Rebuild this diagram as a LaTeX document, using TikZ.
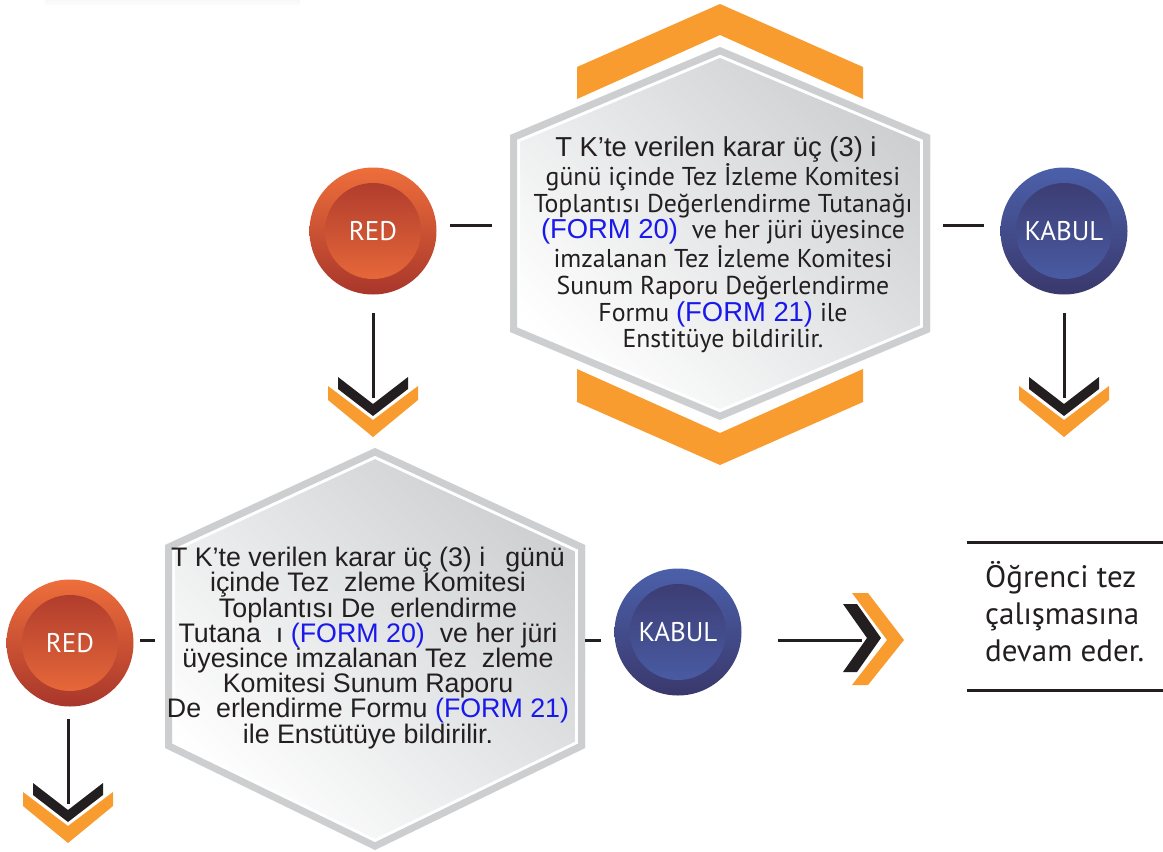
\documentclass[tikz,border=0pt]{standalone}
\usepackage{fontspec}
\setmainfont{Liberation Sans}
\newfontfamily\arial{Liberation Sans}
\newfontfamily\myriad{PT Sans}
\definecolor{ink}{HTML}{231F20}
\definecolor{chevorange}{HTML}{F99C2F}
\definecolor{redA}{HTML}{EE6E3B}
\definecolor{redB}{HTML}{A8362B}
\definecolor{blueA}{HTML}{4B60AA}
\definecolor{blueB}{HTML}{3A386C}
\definecolor{hexgray}{HTML}{CCCED0}
\definecolor{hexfill}{HTML}{CDCFD1}
\definecolor{formblue}{RGB}{25,25,235}
\tikzset{
  ball/.style={circle, minimum size=127pt, inner sep=0pt, text=white,
    font=\myriad\fontsize{27}{27}\selectfont},
  redball/.style={ball, top color=redA, bottom color=redB,
    path picture={\shade[top color=redB, bottom color=redA]
      (path picture bounding box.center) circle (48pt);}},
  blueball/.style={ball, top color=blueA, bottom color=blueB,
    path picture={\shade[top color=blueB, bottom color=blueA]
      (path picture bounding box.center) circle (48pt);}},
  conn/.style={draw=ink, line width=3pt},
  tickline/.style={draw=ink, line width=3pt},
  boxline/.style={draw=ink, line width=3pt},
  hexshade/.style={top color=hexfill, bottom color=white, shading angle=-45},
  downchev/.pic={
    \fill[ink] (-35,0) -- (0,27) -- (35,0) -- (35,12) -- (0,39) -- (-35,12) -- cycle;
    \fill[chevorange] (-45,9) -- (0,43) -- (45,9) -- (45,23) -- (0,60) -- (-45,23) -- cycle;
  },
}
\begin{document}
\begin{tikzpicture}[x=1pt,y=-1pt]
\useasboundingbox (0,0) rectangle (1163,852);
\fill[white] (0,0) rectangle (1163,852);
\shade[top color=black!3, bottom color=white] (45,0) rectangle (300,6);

% ---------- top hexagon with orange chevrons ----------
\fill[chevorange] (577,67) -- (720,4) -- (863,67) -- (863,99) -- (720,35) -- (577,99) -- cycle;
\fill[chevorange] (577,369) -- (720,433) -- (863,369) -- (863,402) -- (720,465) -- (577,402) -- cycle;
\begin{scope}
  \clip (510,135) -- (720,47) -- (930,135) -- (930,332) -- (720,420) -- (510,332) -- cycle;
  \shade[hexshade] (510,135) -- (720,47) -- (930,135) -- (930,332) -- (720,420) -- (510,332) -- cycle;
  \draw[white, line width=20pt] (510,135) -- (720,47) -- (930,135) -- (930,332) -- (720,420) -- (510,332) -- cycle;
  \draw[hexgray, line width=14pt] (510,135) -- (720,47) -- (930,135) -- (930,332) -- (720,420) -- (510,332) -- cycle;
\end{scope}
\node[align=center, text=ink, inner sep=0pt, font=\myriad\fontsize{25.8}{26.8}\selectfont] (hexAtext) at (723,245)
  {{\arial\fontsize{27.4}{26.8}\selectfont T K’te verilen karar üç (3) i\hspace*{14pt}}\\
   günü içinde Tez İzleme Komitesi\\
   Toplantısı Değerlendirme Tutanağı\\
   {\arial\fontsize{27.4}{26.8}\selectfont\color{formblue}(FORM 20)}\ \ ve her jüri üyesince\\
   imzalanan Tez İzleme Komitesi\\
   Sunum Raporu Değerlendirme\\
   Formu {\arial\fontsize{27.4}{26.8}\selectfont\color{formblue}(FORM 21)} ile\\
   Enstitüye bildirilir.};

% ---------- bottom hexagon ----------
\begin{scope}
  \clip (165,545) -- (375,448) -- (585,545) -- (585,748) -- (375,850) -- (165,748) -- cycle;
  \shade[hexshade] (165,545) -- (375,448) -- (585,545) -- (585,748) -- (375,850) -- (165,748) -- cycle;
  \draw[white, line width=20pt] (165,545) -- (375,448) -- (585,545) -- (585,748) -- (375,850) -- (165,748) -- cycle;
  \draw[hexgray, line width=14pt] (165,545) -- (375,448) -- (585,545) -- (585,748) -- (375,850) -- (165,748) -- cycle;
\end{scope}
\node[align=center, text=ink, inner sep=0pt, font=\arial\fontsize{26.8}{25.2}\selectfont] (hexBtext) at (368,648)
  {T K’te verilen karar üç (3) i\hspace{20pt}günü\\
   içinde Tez\hspace{15pt}zleme Komitesi\\
   Toplantısı De\hspace{15pt}erlendirme\\
   Tutana\hspace{15pt}ı {\color{formblue}(FORM 20)}\ \ ve her jüri\\
   üyesince imzalanan Tez\hspace{15pt}zleme\\
   Komitesi Sunum Raporu\\
   De\hspace{15pt}erlendirme Formu {\color{formblue}(FORM 21)}\\
   ile Enstütüye bildirilir.};

% ---------- circles ----------
\node[redball] (red1) at (373,231) {RED};
\node[blueball] (kabul1) at (1064,231) {KABUL};
\node[redball] (red2) at (70,643) {RED};
\node[blueball] (kabul2) at (678,632) {KABUL};

% ---------- ticks between circles and hexagons ----------
\coordinate (t1a) at (450,225); \coordinate (t1b) at (492,225);
\coordinate (t2a) at (943,225); \coordinate (t2b) at (984,225);
\coordinate (t3a) at (140,640); \coordinate (t3b) at (155,640);
\coordinate (t4a) at (585,640); \coordinate (t4b) at (601,640);
\draw[tickline] (t1a) -- (t1b);
\draw[tickline] (t2a) -- (t2b);
\draw[tickline] (t3a) -- (t3b);
\draw[tickline] (t4a) -- (t4b);

% ---------- down connectors with chevrons ----------
\coordinate (r1s) at (373,313); \coordinate (r1e) at (373,398);
\coordinate (k1s) at (1064,313); \coordinate (k1e) at (1064,398);
\coordinate (r2s) at (68,719); \coordinate (r2e) at (68,804);
\draw[conn] (r1s) -- (r1e);
\draw[conn] (k1s) -- (k1e);
\draw[conn] (r2s) -- (r2e);
\pic at (373,377) {downchev};
\pic at (1064,377) {downchev};
\pic at (68,783) {downchev};

% ---------- right arrow ----------
\coordinate (as) at (778,640); \coordinate (ae) at (862,640);
\draw[conn] (as) -- (ae);
\fill[ink] (843,604) -- (857,604) -- (881,638) -- (857,672) -- (843,672) -- (867,638) -- cycle;
\fill[chevorange] (852,593) -- (868,593) -- (904,640) -- (868,685) -- (852,685) -- (887,640) -- cycle;

% ---------- result box ----------
\coordinate (b1a) at (967,542); \coordinate (b1b) at (1163,542);
\coordinate (b2a) at (967,690); \coordinate (b2b) at (1163,690);
\draw[boxline] (b1a) -- (b1b);
\draw[boxline] (b2a) -- (b2b);
\node[anchor=west, align=left, text=ink, inner sep=0pt, font=\myriad\fontsize{31}{37}\selectfont] (result) at (985,612)
  {Öğrenci tez\\ çalışmasına\\ devam eder.};
\end{tikzpicture}
\end{document}
